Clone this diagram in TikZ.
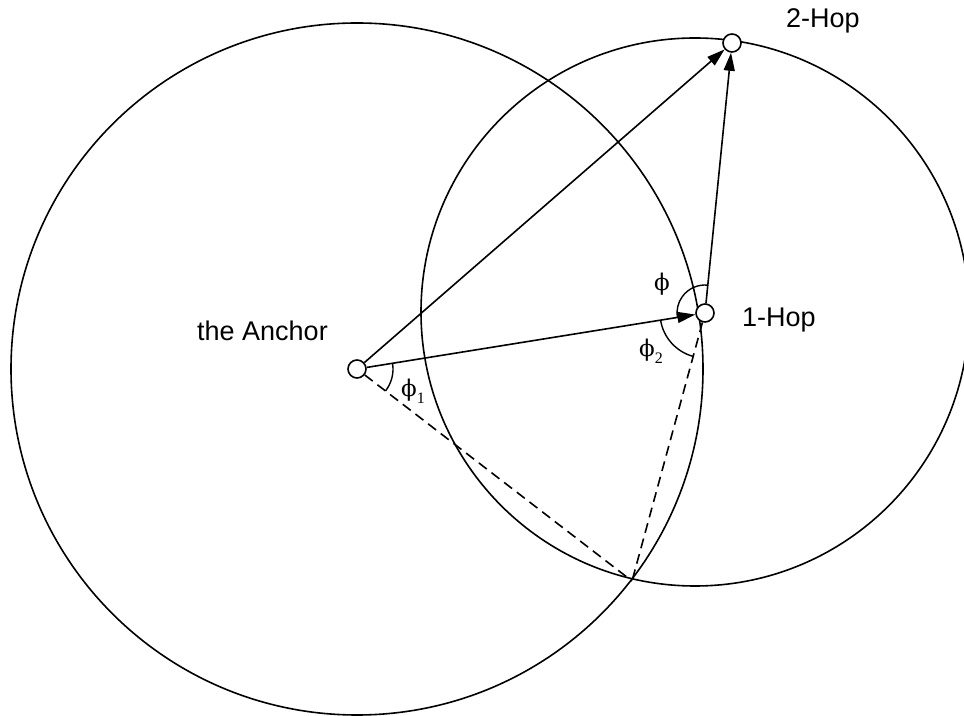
\documentclass[tikz,border=0pt]{standalone}
\usepackage{fontspec}
\setmainfont{Liberation Sans}
\newfontfamily\phifont{DejaVu Serif}
\newfontfamily\subfont{Liberation Serif}
\usetikzlibrary{arrows.meta,calc}
\begin{document}
\begin{tikzpicture}[x=1pt,y=1pt,
  hop/.style={circle,draw,fill=white,line width=1.6pt,minimum size=18pt,inner sep=0pt},
  ray/.style={line width=1.6pt,-{Triangle[length=18pt,width=11pt]}},
  orbit/.style={line width=1.6pt},
  guide/.style={line width=1.6pt,dash pattern=on 10pt off 6pt},
  anglearc/.style={line width=1.4pt},
  lbl/.style={font=\fontsize{27}{30}\selectfont,anchor=base west,inner sep=0pt},
  glbl/.style={anchor=base west,inner sep=0pt,font=\fontsize{23}{26}\selectfont\phifont}
]
\useasboundingbox (0,0) rectangle (964,715);
\draw[orbit] (357,346) circle[radius=346pt];
\draw[orbit] (695,403) circle[radius=274pt];
\node[hop] (A) at (357,346) {};
\node[hop] (H1) at (705,402) {};
\node[hop] (H2) at (732,672) {};
\coordinate (P) at (632,134);
\draw[ray] (A) -- (H2);
\draw[ray] (A) -- (H1);
\draw[ray] (H1) -- (H2);
\draw[guide] (A) -- (P);
\draw[guide] (H1) -- (P);
\draw[anglearc] ($(A)+(-37.6:36)$) arc[start angle=-37.6,end angle=9.1,radius=36pt];
\draw[anglearc] ($(H1)+(84.3:28)$) arc[start angle=84.3,end angle=189.1,radius=28pt];
\draw[anglearc] ($(H1)+(189.1:45)$) arc[start angle=189.1,end angle=254.8,radius=45pt];
\node[lbl] (tA) at (197,374) {the Anchor};
\node[lbl] (t1) at (742,388) {1-Hop};
\node[lbl] (t2) at (786,687) {2-Hop};
\node[glbl] (g1) at (401,318) {ϕ\raisebox{-7pt}{\subfont\fontsize{16}{16}\selectfont 1}};
\node[glbl] (g) at (654,424) {ϕ};
\node[glbl] (g2) at (639,358) {ϕ\raisebox{-7pt}{\subfont\fontsize{16}{16}\selectfont 2}};
\end{tikzpicture}
\end{document}
